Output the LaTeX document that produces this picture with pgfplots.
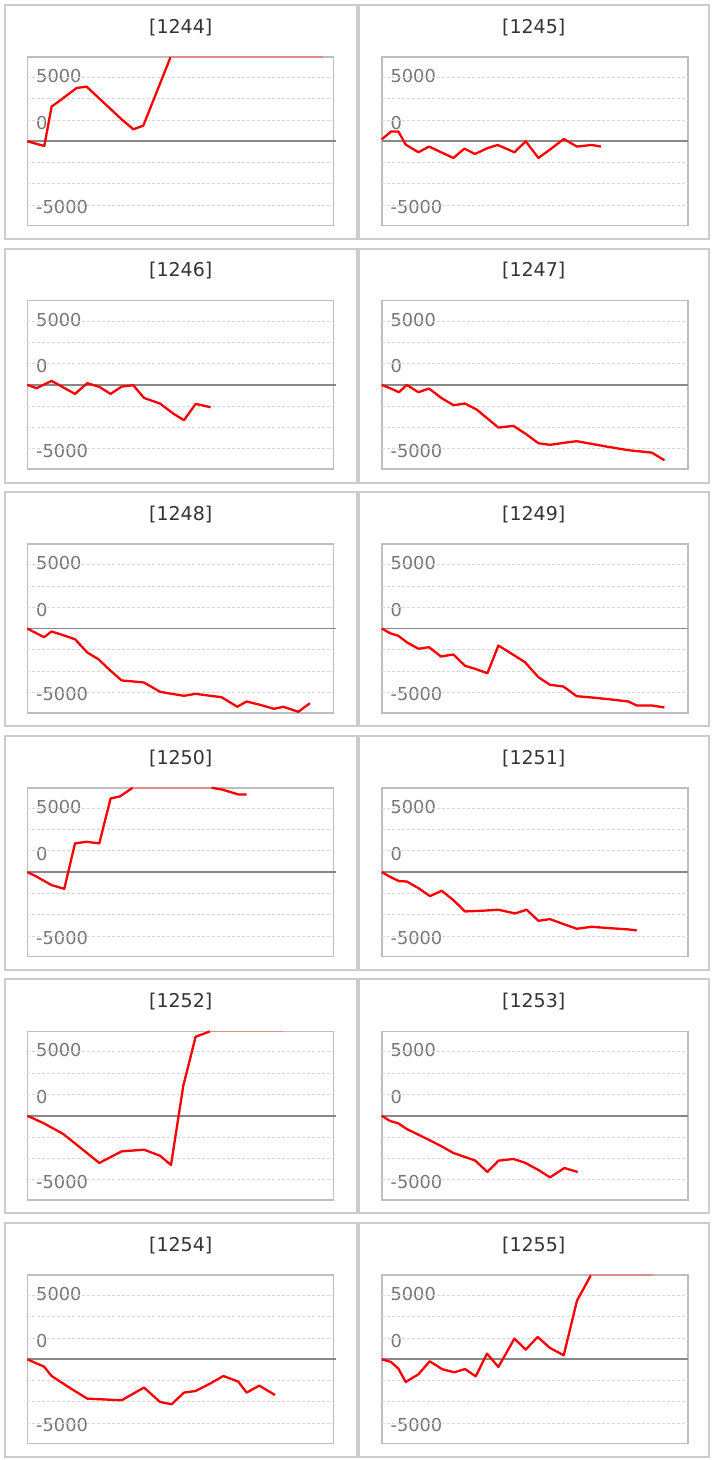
\documentclass[border=0pt]{standalone}
\usepackage{pgfplots}
\pgfplotsset{compat=1.18}
\usepackage{fontspec}
\setmainfont{DejaVu Sans}
\definecolor{redline}{RGB}{255,0,0}
\definecolor{clampc}{RGB}{222,140,140}
\definecolor{boxc}{RGB}{190,190,190}
\definecolor{panelc}{RGB}{204,204,204}
\definecolor{gridc}{RGB}{215,215,215}
\definecolor{zeroc}{RGB}{136,136,136}
\definecolor{labc}{RGB}{118,118,118}
\definecolor{titc}{RGB}{51,51,51}
\pgfplotsset{panel/.style={
  width=306pt, height=168.6pt, scale only axis,
  xmin=0, xmax=306, ymin=-9900, ymax=9900,
  clip=false,
  axis line style={boxc, line width=1.6pt},
  xtick=\empty,
  ytick={-7750,2180,7660}, yticklabels={-5000,0,5000},
  major tick length=0pt,
  yticklabel style={anchor=west, inner sep=0pt, xshift=8.7pt, font=\fontsize{17.8}{18}\selectfont, text=labc},
  extra y ticks={-7500,-5000,-2500,2500,5000,7500},
  extra y tick labels={},
  extra y tick style={ymajorgrids=true, major grid style={gridc, line width=0.8pt, dash pattern=on 3pt off 2pt}},
  anchor=south west,
},
redl/.style={redline, line width=2.3pt, line join=round},
clampl/.style={clampc, line width=1.6pt},
zerol/.style={zeroc, line width=1.8pt}}
\begin{document}
\begin{tikzpicture}
\useasboundingbox (0pt,0pt) rectangle (714pt,-1460pt);
\foreach \r in {0,243.6,487.2,730.8,974.4,1218}{
  \draw[panelc, line width=2pt] (5pt,{-5pt-\r pt}) rectangle (356.5pt,{-239pt-\r pt});
  \draw[panelc, line width=2pt] (359pt,{-5pt-\r pt}) rectangle (708.5pt,{-239pt-\r pt});
}
\tikzset{tit/.style={anchor=base, text=titc, font=\fontsize{19}{20}\selectfont}}
\node[tit] at (180.7pt,-33.3pt) {[1244]};
\node[tit] at (533.7pt,-33.3pt) {[1245]};
\node[tit] at (180.7pt,-276.9pt) {[1246]};
\node[tit] at (533.7pt,-276.9pt) {[1247]};
\node[tit] at (180.7pt,-520.5pt) {[1248]};
\node[tit] at (533.7pt,-520.5pt) {[1249]};
\node[tit] at (180.7pt,-764.1pt) {[1250]};
\node[tit] at (533.7pt,-764.1pt) {[1251]};
\node[tit] at (180.7pt,-1007.7pt) {[1252]};
\node[tit] at (533.7pt,-1007.7pt) {[1253]};
\node[tit] at (180.7pt,-1251.3pt) {[1254]};
\node[tit] at (533.7pt,-1251.3pt) {[1255]};

% 1244
\begin{axis}[panel, at={(27.3pt,-225.6pt)}]
\addplot[zerol] coordinates {(0,0) (308.5,0)};
\addplot[redl] coordinates {(0,0) (17,-550) (24.3,4070) (34.3,4930) (49.3,6260) (59.3,6420) (94.3,2580) (106,1410) (116,1840) (143.3,9900)};
\addplot[clampl] coordinates {(143.3,9900) (295.3,9900)};
\end{axis}
% 1245
\begin{axis}[panel, at={(381.7pt,-225.6pt)}]
\addplot[zerol] coordinates {(0,0) (306,0)};
\addplot[redl] coordinates {(0,230) (9.3,1140) (16.7,1140) (24,-390) (36.7,-1290) (47.3,-620) (71.7,-1960) (82.7,-860) (93.3,-1490) (106,-790) (116,-430) (132.7,-1290) (144,0) (156.7,-1960) (170,-820) (182,270) (195.3,-620) (210,-430) (219.3,-620)};
\end{axis}
% 1246
\begin{axis}[panel, at={(27.3pt,-469.2pt)}]
\addplot[zerol] coordinates {(0,0) (308.5,0)};
\addplot[redl] coordinates {(0,0) (9.3,-390) (24.3,470) (47.7,-1060) (60,200) (72,-230) (83.3,-1060) (94.3,-200) (106,-40) (116.7,-1530) (132.7,-2190) (146,-3370) (156.7,-4150) (168.3,-2230) (183.3,-2620)};
\end{axis}
% 1247
\begin{axis}[panel, at={(381.7pt,-469.2pt)}]
\addplot[zerol] coordinates {(0,0) (306,0)};
\addplot[redl] coordinates {(0,0) (8.3,-390) (17.3,-860) (25,0) (36.7,-860) (47.3,-430) (60,-1560) (71.7,-2380) (83.3,-2190) (95,-2900) (116.7,-5010) (131.7,-4810) (145,-5830) (156.7,-6850) (168.3,-7040) (181.7,-6810) (195,-6610) (208.3,-6890) (226.7,-7280) (246.7,-7670) (270,-7950) (282.7,-8840)};
\end{axis}
% 1248
\begin{axis}[panel, at={(27.3pt,-712.8pt)}]
\addplot[zerol] coordinates {(0,0) (308.5,0)};
\addplot[redl] coordinates {(0,0) (16.7,-1020) (24.3,-350) (36,-790) (47.7,-1260) (60,-2820) (71,-3600) (82.7,-4900) (94.3,-6100) (106,-6220) (116.7,-6340) (132.7,-7430) (144.3,-7670) (156.7,-7900) (168.3,-7670) (181,-7870) (194.3,-8070) (210,-9190) (219.3,-8570) (232.7,-8960) (246.7,-9430) (256,-9190) (271,-9780) (282.7,-8770)};
\end{axis}
% 1249
\begin{axis}[panel, at={(381.7pt,-712.8pt)}]
\addplot[zerol] coordinates {(0,0) (306,0)};
\addplot[redl] coordinates {(0,0) (8.3,-550) (16.7,-860) (25,-1610) (36.7,-2380) (47.3,-2190) (59.3,-3290) (71.7,-3050) (83.3,-4380) (93.3,-4730) (105.7,-5250) (116.7,-2000) (130,-2970) (143.3,-3960) (156.7,-5720) (168.3,-6610) (181.7,-6810) (195,-7950) (210,-8100) (226.7,-8300) (246.7,-8570) (255,-9040) (270,-9040) (282.7,-9270)};
\end{axis}
% 1250
\begin{axis}[panel, at={(27.3pt,-956.4pt)}]
\addplot[zerol] coordinates {(0,0) (308.5,0)};
\addplot[redl] coordinates {(0,0) (7.7,-430) (24.3,-1530) (37,-1960) (47.7,3370) (59.3,3560) (72,3370) (83.3,8650) (92.7,8890) (105.3,9900)};
\addplot[clampl] coordinates {(105.3,9900) (184.3,9900)};
\addplot[redl] coordinates {(184.3,9900) (194.3,9710) (211,9120) (219.3,9120)};
\end{axis}
% 1251
\begin{axis}[panel, at={(381.7pt,-956.4pt)}]
\addplot[zerol] coordinates {(0,0) (306,0)};
\addplot[redl] coordinates {(0,0) (8.3,-550) (17.3,-1060) (25,-1100) (36.7,-1880) (48.3,-2820) (60,-2190) (71.7,-3290) (83.3,-4620) (100,-4540) (116.7,-4420) (133.3,-4850) (145,-4420) (156.7,-5720) (168.3,-5520) (181.7,-6100) (195,-6650) (210,-6420) (226.7,-6570) (246.7,-6730) (255,-6850)};
\end{axis}
% 1252
\begin{axis}[panel, at={(27.3pt,-1200pt)}]
\addplot[zerol] coordinates {(0,0) (308.5,0)};
\addplot[redl] coordinates {(0,0) (16,-860) (36,-2150) (52.7,-3720) (72,-5550) (94.3,-4190) (116.7,-3990) (132.7,-4700) (143.7,-5790) (156,3520) (168.3,9270) (182.7,9900)};
\addplot[clampl] coordinates {(182.7,9900) (255.3,9900)};
\end{axis}
% 1253
\begin{axis}[panel, at={(381.7pt,-1200pt)}]
\addplot[zerol] coordinates {(0,0) (306,0)};
\addplot[redl] coordinates {(0,0) (8.3,-620) (16.7,-900) (25,-1560) (36.7,-2230) (48.3,-2900) (60,-3600) (71.7,-4380) (83.3,-4850) (93.3,-5250) (105.7,-6610) (116.7,-5280) (131.7,-5080) (143.3,-5520) (156.7,-6370) (168.3,-7240) (182.7,-6140) (196,-6610)};
\end{axis}
% 1254
\begin{axis}[panel, at={(27.3pt,-1443.6pt)}]
\addplot[zerol] coordinates {(0,0) (308.5,0)};
\addplot[redl] coordinates {(0,0) (16.7,-860) (24.3,-1960) (42.7,-3370) (60,-4620) (94.3,-4810) (116.7,-3320) (132.7,-5010) (144.3,-5280) (156.7,-3910) (168.3,-3720) (183.3,-2820) (196,-1960) (211,-2620) (219.3,-3910) (232,-3090) (247.7,-4190)};
\end{axis}
% 1255
\begin{axis}[panel, at={(381.7pt,-1443.6pt)}]
\addplot[zerol] coordinates {(0,0) (306,0)};
\addplot[redl] coordinates {(0,0) (9.3,-310) (16.7,-1100) (24,-2660) (36.7,-1760) (48,-230) (60.7,-1170) (72.7,-1530) (83.3,-1140) (94,-2000) (105.3,670) (116.7,-900) (132.7,2430) (144,1140) (156,2620) (168.3,1330) (182,470) (195.3,6890) (209.3,9900)};
\addplot[clampl] coordinates {(209.3,9900) (271,9900)};
\end{axis}
\end{tikzpicture}
\end{document}
